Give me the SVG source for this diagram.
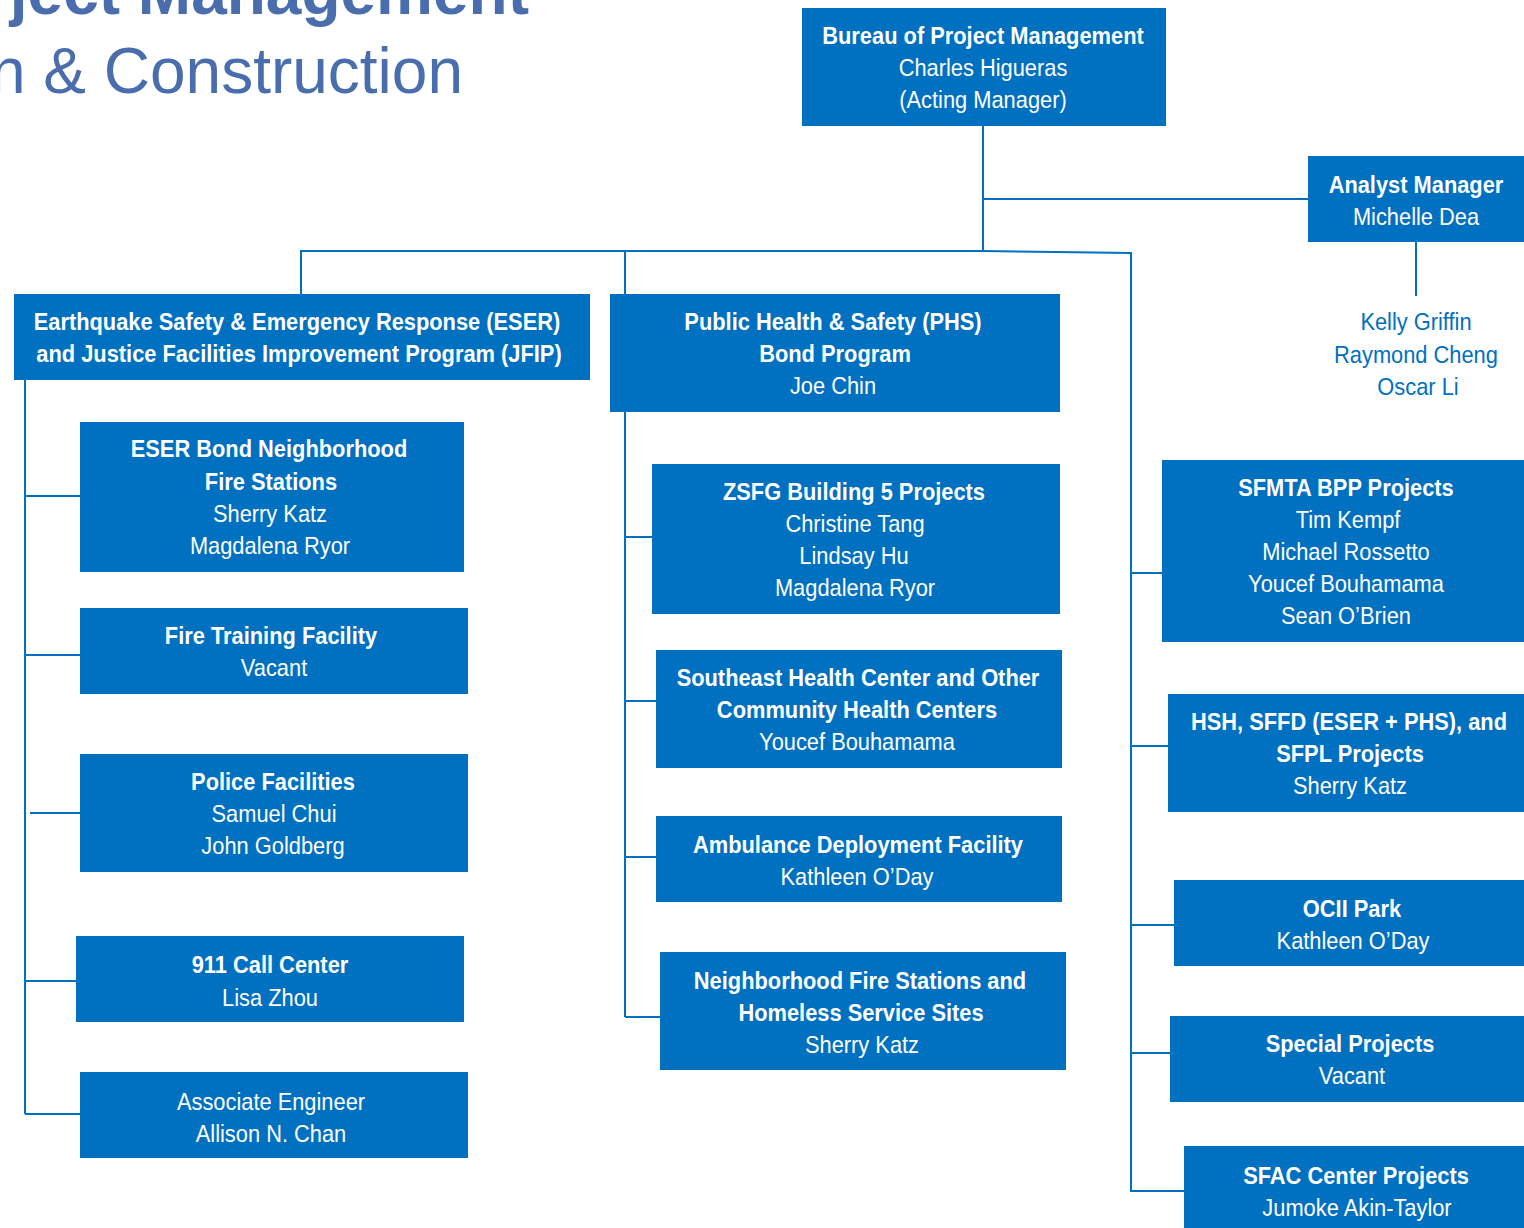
<svg xmlns="http://www.w3.org/2000/svg" width="1524" height="1228" viewBox="0 0 1524 1228">
<style>
.box{fill:#0070c0}
text{font-family:"Liberation Sans Narrow","Liberation Sans",Arial,sans-serif;font-size:24px;text-anchor:middle;fill:#ffffff;transform-box:fill-box;transform-origin:center;transform:scaleX(0.91)}
.b{font-weight:bold}
text.title{font-family:"Liberation Sans",Arial,sans-serif;font-size:64px;fill:#4a6ead;text-anchor:end;transform:none}
.blue{fill:#0070c0}
.ln{stroke:#0070c0;stroke-width:2;fill:none}
</style>
<rect width="1524" height="1228" fill="#ffffff"/>
<g id="title">
<text class="title" x="529" y="14" font-weight="bold">ject Management</text>
<text class="title" x="463" y="93">n &amp; Construction</text>
</g>
<g id="connectors">
<path class="ln" d="M983,126V252M983,199H1308M1416,242V296"/>
<path class="ln" d="M301,294V251H983L1131,253V1192M625,251V294"/>
<path class="ln" d="M25,380V1114M25,496H80M25,655H80M30,813H80M25,981H76M25,1114H80"/>
<path class="ln" d="M625,412V1017M625,537H652M625,701H656M625,857H656M625,1017H660"/>
<path class="ln" d="M1131,573H1162M1131,746H1168M1131,925H1174M1131,1053H1170M1131,1191H1184"/>
</g>
<g id="bureau"><rect class="box" x="802" y="8" width="364" height="118"/>
<text class="b" x="983" y="44">Bureau of Project Management</text><text x="983" y="76">Charles Higueras</text><text x="983" y="108">(Acting Manager)</text></g>
<g id="analyst"><rect class="box" x="1308" y="156" width="216" height="86"/>
<text class="b" x="1416" y="193">Analyst Manager</text><text x="1416" y="225">Michelle Dea</text></g>
<g id="analysts"><text class="blue" x="1416" y="330">Kelly Griffin</text><text class="blue" x="1416" y="363">Raymond Cheng</text><text class="blue" x="1418" y="395">Oscar Li</text></g>
<g id="eser"><rect class="box" x="14" y="294" width="576" height="86"/>
<text class="b" x="297" y="330">Earthquake Safety &amp; Emergency Response (ESER)</text><text class="b" x="299" y="362">and Justice Facilities Improvement Program (JFIP)</text></g>
<g id="phs"><rect class="box" x="610" y="294" width="450" height="118"/>
<text class="b" x="833" y="330">Public Health &amp; Safety (PHS)</text><text class="b" x="835" y="362">Bond Program</text><text x="833" y="394">Joe Chin</text></g>
<g id="eserfire"><rect class="box" x="80" y="422" width="384" height="150"/>
<text class="b" x="269" y="457">ESER Bond Neighborhood</text><text class="b" x="271" y="490">Fire Stations</text><text x="270" y="522">Sherry Katz</text><text x="270" y="554">Magdalena Ryor</text></g>
<g id="firetraining"><rect class="box" x="80" y="608" width="388" height="86"/>
<text class="b" x="271" y="644">Fire Training Facility</text><text x="274" y="676">Vacant</text></g>
<g id="police"><rect class="box" x="80" y="754" width="388" height="118"/>
<text class="b" x="273" y="790">Police Facilities</text><text x="274" y="822">Samuel Chui</text><text x="273" y="854">John Goldberg</text></g>
<g id="call911"><rect class="box" x="76" y="936" width="388" height="86"/>
<text class="b" x="270" y="973">911 Call Center</text><text x="270" y="1006">Lisa Zhou</text></g>
<g id="assoc"><rect class="box" x="80" y="1072" width="388" height="86"/>
<text x="271" y="1110">Associate Engineer</text><text x="271" y="1142">Allison N. Chan</text></g>
<g id="zsfg"><rect class="box" x="652" y="464" width="408" height="150"/>
<text class="b" x="854" y="500">ZSFG Building 5 Projects</text><text x="855" y="532">Christine Tang</text><text x="854" y="564">Lindsay Hu</text><text x="855" y="596">Magdalena Ryor</text></g>
<g id="southeast"><rect class="box" x="656" y="650" width="406" height="118"/>
<text class="b" x="858" y="686">Southeast Health Center and Other</text><text class="b" x="857" y="718">Community Health Centers</text><text x="857" y="750">Youcef Bouhamama</text></g>
<g id="ambulance"><rect class="box" x="656" y="816" width="406" height="86"/>
<text class="b" x="858" y="853">Ambulance Deployment Facility</text><text x="857" y="885">Kathleen O’Day</text></g>
<g id="nfs"><rect class="box" x="660" y="952" width="406" height="118"/>
<text class="b" x="860" y="989">Neighborhood Fire Stations and</text><text class="b" x="861" y="1021">Homeless Service Sites</text><text x="862" y="1053">Sherry Katz</text></g>
<g id="sfmta"><rect class="box" x="1162" y="460" width="362" height="182"/>
<text class="b" x="1346" y="496">SFMTA BPP Projects</text><text x="1348" y="528">Tim Kempf</text><text x="1346" y="560">Michael Rossetto</text><text x="1346" y="592">Youcef Bouhamama</text><text x="1346" y="624">Sean O’Brien</text></g>
<g id="hsh"><rect class="box" x="1168" y="694" width="356" height="118"/>
<text class="b" x="1349" y="730">HSH, SFFD (ESER + PHS), and</text><text class="b" x="1350" y="762">SFPL Projects</text><text x="1350" y="794">Sherry Katz</text></g>
<g id="ocii"><rect class="box" x="1174" y="880" width="350" height="86"/>
<text class="b" x="1352" y="917">OCII Park</text><text x="1353" y="949">Kathleen O’Day</text></g>
<g id="special"><rect class="box" x="1170" y="1016" width="354" height="86"/>
<text class="b" x="1350" y="1052">Special Projects</text><text x="1352" y="1084">Vacant</text></g>
<g id="sfac"><rect class="box" x="1184" y="1146" width="340" height="82"/>
<text class="b" x="1356" y="1184">SFAC Center Projects</text><text x="1357" y="1216">Jumoke Akin-Taylor</text></g>
</svg>
